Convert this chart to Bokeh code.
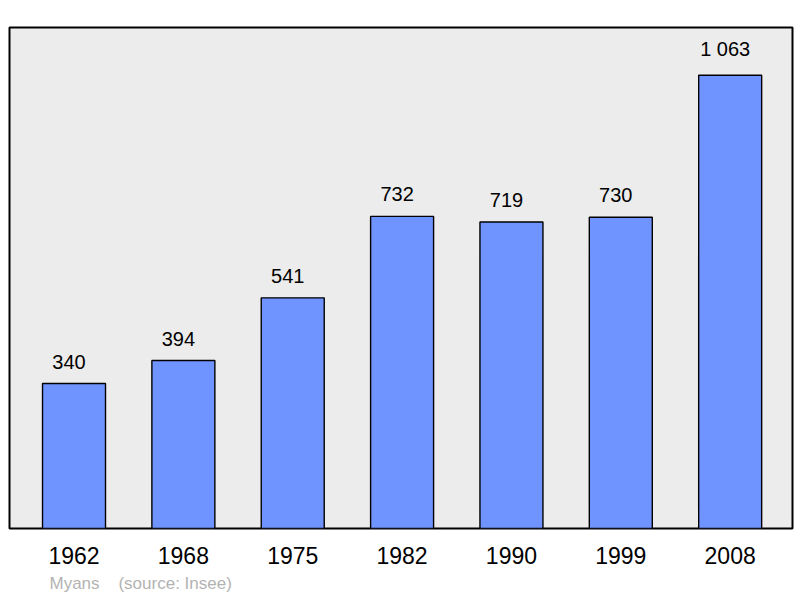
from bokeh.plotting import figure
from bokeh.models import ColumnDataSource, FixedTicker, Title, Range1d
from bokeh.core.properties import value
from bokeh.embed import file_html
from bokeh.resources import INLINE

years = ["1962", "1968", "1975", "1982", "1990", "1999", "2008"]
population = [340, 394, 541, 732, 719, 730, 1063]
labels = ["340", "394", "541", "732", "719", "730", "1 063"]
footer_text = "Myans\u00a0\u00a0\u00a0\u00a0(source: Insee)"

xs = list(range(len(years)))
src = ColumnDataSource(dict(x=xs, y=population, label=labels))

p = figure(width=794, height=597, output_backend="svg", toolbar_location=None,
           x_range=Range1d(-0.59, 6.57), y_range=Range1d(0, 1175),
           min_border_left=9, min_border_right=2, min_border_top=27, min_border_bottom=10)
p.background_fill_color = "#ececec"
p.border_fill_color = "white"
p.outline_line_color = "black"
p.outline_line_width = 2
p.grid.visible = False
p.yaxis.visible = False

p.vbar(x="x", top="y", width=0.576, bottom=0, source=src,
       fill_color="#7094ff", line_color="black", line_width=1.4)
p.text(x="x", y="y", text="label", source=src, text_align="center",
       text_baseline="bottom", y_offset=-15, x_offset=-5, text_font_size="20px",
       text_font=value("Liberation Sans"), text_color="black")

ax = p.xaxis[0]
ax.ticker = FixedTicker(ticks=xs)
ax.major_label_overrides = {i: y for i, y in zip(xs, years)}
ax.axis_line_color = None
ax.major_tick_line_color = None
ax.minor_tick_line_color = None
ax.major_label_text_font = "Liberation Sans"
ax.major_label_text_font_size = "23px"
ax.major_label_text_color = "black"
ax.major_label_standoff = 12

footer = Title(text=footer_text, align="left", offset=40,
               text_font="Liberation Sans", text_font_size="17px",
               text_font_style="normal", text_color="#b3b3b3")
p.add_layout(footer, "below")

open("out.html", "w").write(file_html(p, INLINE))
